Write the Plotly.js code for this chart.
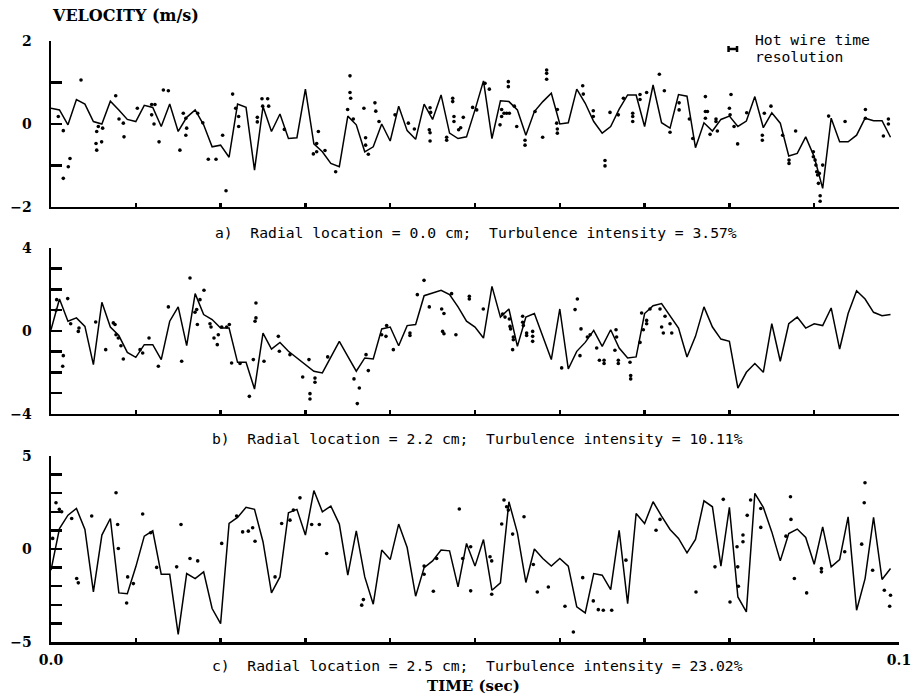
<!DOCTYPE html>
<html><head><meta charset="utf-8">
<script src="https://cdn.plot.ly/plotly-3.0.1.min.js"></script>
<style>html,body{margin:0;padding:0;background:#fff}</style>
</head><body>
<div id="chart" style="width:915px;height:698px"></div>
<script>
// sample times (sec) of the velocity traces
const TIME = [0,0.001,0.002,0.003,0.004,0.005,0.006,0.007,0.008,0.009,
0.010,0.011,0.012,0.013,0.014,0.015,0.016,0.017,0.018,0.019,
0.020,0.021,0.022,0.023,0.024,0.025,0.026,0.027,0.028,0.029,
0.030,0.031,0.032,0.033,0.034,0.035,0.036,0.037,0.038,0.039,
0.040,0.041,0.042,0.043,0.044,0.045,0.046,0.047,0.048,0.049,
0.050,0.051,0.052,0.053,0.054,0.055,0.056,0.057,0.058,0.059,
0.060,0.061,0.062,0.063,0.064,0.065,0.066,0.067,0.068,0.069,
0.070,0.071,0.072,0.073,0.074,0.075,0.076,0.077,0.078,0.079,
0.080,0.081,0.082,0.083,0.084,0.085,0.086,0.087,0.088,0.089,
0.090,0.091,0.092,0.093,0.094,0.095,0.096,0.097,0.098,0.099];

// a) hot wire velocity, radial location 0.0 cm
const LINE_A = [0.38,0.34,-0.02,0.59,0.48,0.06,0.0,0.55,0.34,0.11,
0.06,0.45,0.40,-0.06,0.48,-0.18,0.16,0.34,-0.02,-0.55,
-0.51,-0.80,0.48,0.40,-1.11,0.42,-0.18,0.24,-0.35,-0.33,
0.84,-0.48,-0.67,-0.95,-1.03,0.19,-0.02,-0.67,-0.55,0.0,
-0.41,0.43,-0.16,-0.37,0.48,0.11,0.70,-0.22,-0.35,-0.31,
0.34,1.04,-0.35,0.56,0.54,0.34,-0.27,0.30,0.54,0.74,
0.0,0.03,0.84,0.50,0.06,-0.22,-0.06,0.36,0.70,0.70,
-0.06,0.94,0.03,-0.10,0.71,0.67,-0.57,0.03,-0.17,0.11,
0.19,-0.06,0.07,0.66,-0.09,0.27,0.02,-0.77,-0.71,-0.31,
-0.79,-1.55,0.14,-0.43,-0.43,-0.27,0.14,0.08,0.08,-0.32];

// b) radial location 2.2 cm
const LINE_B = [0.06,1.54,0.47,0.63,0.22,-1.62,1.38,0.19,-0.22,-1.03,
-1.27,-0.66,-0.66,-1.38,0.47,1.16,-0.71,1.80,0.79,0.55,
0.14,0.14,-1.51,-1.51,-2.80,-0.10,-0.87,-0.55,-0.98,-1.30,
-1.62,-1.94,-2.02,-1.27,-0.50,-1.22,-1.94,-1.30,-1.35,0.10,
0.19,-0.71,0.26,0.31,1.70,1.83,1.96,1.75,1.16,0.47,
0.19,-0.34,2.15,0.67,1.06,-0.74,0.67,0.84,-0.26,-1.38,
1.06,-1.83,-0.98,-0.55,0.03,-0.74,0.06,-0.82,-1.30,-1.25,
0.84,1.22,1.32,0.71,0.14,-1.25,-0.26,1.16,0.19,-0.39,
-0.50,-2.75,-1.99,-1.57,-1.99,0.35,-1.46,0.35,0.67,0.14,
0.35,0.26,1.11,-0.87,0.84,1.94,1.54,0.90,0.74,0.79];

// c) radial location 2.5 cm
const LINE_C = [-1.14,1.10,1.82,2.18,1.05,-2.31,0.75,1.64,-2.36,-2.40,
-0.96,0.69,0.98,-1.36,-1.36,-4.59,-1.32,-1.59,-1.23,-3.20,
-4.01,1.37,1.70,2.24,2.13,0.39,-2.36,-1.50,1.95,2.13,
0.75,3.14,2.00,2.31,1.34,-1.41,0.98,-1.50,-2.97,-0.06,
-0.57,1.34,0.08,-2.54,-1.00,-0.64,-0.06,-0.10,-2.04,0.30,
-0.92,0.51,-2.22,-1.82,2.54,0.87,-1.80,0.0,-0.51,-0.92,
-0.51,-0.92,-3.11,-3.44,-1.32,-1.41,-2.18,1.00,-2.94,1.91,
1.37,2.54,1.77,1.05,0.57,-0.21,0.51,2.59,2.27,-0.92,
2.24,-2.58,-3.38,2.99,2.24,0.92,-0.64,0.83,1.07,0.62,
-0.82,1.19,-0.96,-0.57,1.73,-3.29,-1.59,1.70,-1.64,-1.05];

// comparison measurements (dots)
const DOTS_A_T = [0.00086,0.00145,0.00204,0.00224,0.00145,0.00354,0.00539,0.00558,0.00531,0.00539,0.00597,0.00609,
0.00763,0.00802,0.00853,0.00861,0.01018,0.01187,0.01226,0.01187,0.01215,0.01274,0.01325,0.01384,0.0156,0.0152,
0.0159,0.016,0.0159,0.0173,0.0179,0.01855,0.01946,0.02024,0.02064,0.02142,0.02178,0.02213,0.02213,0.02433,0.02433,
0.02488,0.02555,0.02496,0.02567,0.02752,0.03094,0.03133,0.03153,0.03133,0.03231,0.03357,0.03526,0.03526,0.03534,
0.03498,0.03565,0.0369,0.0371,0.0371,0.03742,0.0382,0.0383,0.03868,0.04057,0.04214,0.04285,0.0447,0.04477,0.04461,
0.0447,0.0447,0.04666,0.04666,0.04737,0.04737,0.04752,0.04752,0.04807,0.04831,0.04862,0.04972,0.0502,0.05118,0.05169,
0.05295,0.05314,0.05314,0.05342,0.05373,0.05405,0.05393,0.05393,0.05464,0.05492,0.0559,0.0559,0.05708,0.05798,0.05845,
0.05845,0.05845,0.05971,0.05963,0.05971,0.05971,0.0627,0.06277,0.06395,0.06395,0.06533,0.06533,0.06592,0.0669,0.0675,
0.0686,0.0686,0.0686,0.06946,0.06946,0.07024,0.07174,0.07233,0.073,0.07407,0.07407,0.07528,0.07568,0.07717,0.07717,
0.07741,0.07717,0.07772,0.07842,0.07842,0.07858,0.08019,0.08,0.08008,0.08055,0.08097,0.08204,0.08388,0.08388,0.08412,
0.0849,0.08628,0.08703,0.08703,0.08781,0.0899,0.0899,0.0901,0.0902,0.0903,0.0904,0.0906,0.091,0.0905,0.0907,0.0907,
0.0917,0.09364,0.09604,0.09604,0.09816,0.09875,0.09875];
const DOTS_A_V = [0.18,-0.16,-1.03,-0.83,-1.31,1.06,-0.18,-0.06,-0.47,-0.63,-0.43,-0.10,
0.68,0.12,0.02,-0.31,0.38,0.47,0.47,0.22,0.0,-0.43,0.82,0.80,0.26,-0.63,
0.14,-0.10,-0.27,0.26,0.03,-0.85,-0.85,-0.27,-1.61,0.72,0.38,0.18,-0.06,0.16,0.05,
0.61,0.61,0.43,0.43,-0.13,-0.72,-0.47,-0.18,-0.67,-0.64,-1.15,1.16,0.76,0.62,
0.35,0.12,0.38,-0.33,-0.51,-0.73,0.51,0.31,0.06,0.22,0.02,-0.12,0.39,0.28,-0.14,
-0.21,-0.41,-0.32,-0.39,0.62,0.54,0.18,0.06,-0.14,-0.09,0.16,0.40,0.34,0.98,0.84,
-0.02,0.18,0.35,0.26,0.26,0.26,1.02,0.90,0.43,-0.06,-0.39,-0.51,0.30,-0.32,1.30,
1.22,1.08,0.35,0.02,-0.12,-0.22,0.92,0.72,0.32,0.18,-0.88,-1.01,0.28,0.22,0.62,
0.26,0.18,0.06,0.71,0.59,0.76,1.20,0.80,-0.20,0.51,0.34,0.12,-0.35,0.66,0.30,
0.30,0.14,-0.25,0.12,0.06,-0.17,0.71,0.38,0.22,-0.06,-0.48,0.27,-0.27,-0.39,0.26,
0.43,-0.27,-0.87,-0.95,-0.17,-0.67,-0.79,-0.87,-0.99,-1.15,-1.23,-1.19,-0.99,-1.43,-1.73,-1.86,
0.19,0.06,0.35,0.14,-0.29,0.12,0.0];

const DOTS_B_T = [0.00067,0.00059,0.00145,0.00138,0.00197,0.00232,0.0033,0.00322,0.00527,0.00645,0.00735,0.00755,
0.00767,0.00794,0.00825,0.00853,0.0105,0.01081,0.01156,0.01266,0.01384,0.01541,0.01639,0.01698,0.01718,0.01804,
0.01757,0.01726,0.01875,0.01887,0.01922,0.01961,0.01973,0.02013,0.02072,0.02103,0.0213,0.02229,0.02339,0.02386,
0.02406,0.02417,0.02417,0.02512,0.02681,0.02693,0.02818,0.02968,0.03042,0.03054,0.03054,0.03113,0.03113,0.03263,
0.03573,0.03636,0.03612,0.03742,0.03715,0.03899,0.03958,0.0395,0.04037,0.04233,0.04233,0.0432,0.04399,0.04461,
0.04607,0.04634,0.04618,0.04634,0.04724,0.04775,0.04933,0.04933,0.05098,0.05326,0.05354,0.05405,0.05413,0.0542,
0.05444,0.05452,0.05452,0.05562,0.05562,0.0557,0.05609,0.05609,0.0568,0.0568,0.0568,0.06022,0.0618,0.06207,0.0625,
0.06238,0.06325,0.06357,0.06435,0.06467,0.06522,0.06522,0.06663,0.0667,0.0665,0.0669,0.0669,0.06828,0.06836,0.06836,
0.06946,0.06965,0.06985,0.07024,0.07024,0.07064,0.07182,0.07201,0.07221,0.07241,0.073,0.0732];
const DOTS_B_V = [1.51,1.00,-1.19,-1.70,1.56,0.35,0.14,-0.02,0.43,-0.90,0.39,0.31,
-0.18,-0.34,-0.71,-1.35,-0.90,-1.06,-0.34,-1.70,1.16,-1.46,2.55,0.90,1.03,1.96,
1.51,0.31,0.35,0.19,-0.34,-0.66,-0.18,0.19,0.19,0.31,-1.54,-1.57,-3.15,-1.38,
0.47,0.63,1.35,-1.46,-0.26,-0.98,-1.14,-2.22,-1.38,-3.02,-3.28,-2.27,-2.47,-1.25,
-2.31,-2.75,-3.50,-1.91,-1.14,-0.18,0.26,-0.26,-0.90,-0.10,-0.22,1.75,2.44,1.16,
1.06,0.84,-0.02,-0.13,1.80,-0.18,1.67,1.54,1.06,0.82,0.67,0.58,0.22,0.10,
-0.90,-0.29,-0.42,0.71,0.42,0.26,-0.10,-0.22,-0.02,-0.26,-0.50,-1.78,1.03,1.54,0.10,
-1.19,-0.29,-0.18,-0.82,-1.41,-1.41,-1.57,0.06,-0.29,-0.93,-1.41,-1.57,-1.51,-2.15,-2.31,
-0.55,0.87,0.06,0.51,0.35,1.06,1.06,0.19,-0.10,0.71,0.35,-0.10];

const DOTS_C_T = [0.0002,0.00059,0.00098,0.00126,0.00244,0.00303,0.00322,0.0048,0.00767,0.00786,0.00794,0.00904,
0.00971,0.00892,0.01081,0.01175,0.01246,0.01482,0.01533,0.01639,0.0173,0.02013,0.02189,0.0226,0.02327,0.02378,
0.02406,0.02642,0.0272,0.02818,0.02858,0.02936,0.03074,0.03164,0.03251,0.03664,0.03684,0.044,0.044,0.04509,0.04548,
0.04815,0.04855,0.04949,0.04949,0.05177,0.05197,0.05197,0.05315,0.05342,0.05373,0.05393,0.05444,0.05578,0.05688,
0.05735,0.05865,0.06061,0.0616,0.0627,0.06395,0.06454,0.06513,0.06612,0.0678,0.07135,0.07182,0.07606,0.0783,0.07928,
0.08007,0.0809,0.08098,0.08106,0.0816,0.0816,0.0821,0.0825,0.0837,0.0837,0.0872,0.08726,0.08667,0.08766,0.08911,
0.09085,0.09085,0.0936,0.0956,0.09599,0.0959,0.09689,0.09827,0.099,0.0989];
const DOTS_C_V = [0.57,2.49,2.13,2.00,1.64,-1.59,-1.82,1.77,3.02,1.32,0.03,-1.50,
-1.86,-2.90,1.88,0.87,-0.99,-0.96,1.32,-0.51,-0.64,0.30,1.77,0.92,0.96,1.14,
0.42,-1.50,1.37,1.55,2.09,2.75,1.32,1.32,-0.24,-3.02,-2.72,-0.92,-1.36,-2.27,-0.51,
2.15,-0.51,0.12,-2.25,-0.42,-0.64,-2.43,1.34,2.63,2.27,2.09,0.80,1.73,-0.83,
-2.31,-2.04,-3.08,-4.46,-1.54,-2.79,-3.26,-3.29,-3.29,-0.60,1.01,1.59,-2.31,-0.96,2.67,
-2.85,0.12,-0.96,-2.00,0.39,0.75,1.81,2.63,2.18,1.16,2.81,1.59,0.69,-1.59,-2.36,
-1.05,-1.23,-0.15,0.26,3.56,2.49,-1.14,-2.22,-2.49,-3.08];

const Y_RANGES = [[-2,2],[-4,4],[-5,5]];
const Y_LABEL_STEP = [2,4,5];
const PANEL_TEXT = [
  "a)\u00a0\u00a0Radial location = 0.0 cm;\u00a0\u00a0Turbulence intensity = 3.57%",
  "b)\u00a0\u00a0Radial location = 2.2 cm;\u00a0\u00a0Turbulence intensity = 10.11%",
  "c)\u00a0\u00a0Radial location = 2.5 cm;\u00a0\u00a0Turbulence intensity = 23.02%"];
const LEGEND_LINES = ["Hot wire time", "resolution"];
const HOT_WIRE_RES = 0.001;          // sec
const HOT_WIRE_MARK = [0.0804, 1.81]; // where the resolution bar is drawn (panel a)

const LINES = [LINE_A, LINE_B, LINE_C];
const DOTS = [[DOTS_A_T, DOTS_A_V],[DOTS_B_T, DOTS_B_V],[DOTS_C_T, DOTS_C_V]];
const DOMAINS = [[0.7238,1],[0.3794,0.6556],[0,0.3095]];
const SUF = ['', '2', '3'];

const traces = [];
for (let k = 0; k < 3; k++) {
  traces.push({x: TIME, y: LINES[k], xaxis: 'x'+SUF[k], yaxis: 'y'+SUF[k], mode: 'lines',
    line: {color: 'black', width: 1.5}, hoverinfo: 'skip'});
  traces.push({x: DOTS[k][0], y: DOTS[k][1], xaxis: 'x'+SUF[k], yaxis: 'y'+SUF[k], mode: 'markers',
    marker: {color: 'black', size: 3.6}, hoverinfo: 'skip'});
}
traces.push({x: [HOT_WIRE_MARK[0]], y: [HOT_WIRE_MARK[1]], xaxis: 'x', yaxis: 'y', mode: 'markers',
  marker: {size: 1, color: 'black'}, cliponaxis: false,
  error_x: {type: 'constant', value: HOT_WIRE_RES/2, thickness: 2.5, width: 3, color: 'black'}});

const boldSerif = {family: 'DejaVu Serif, serif', size: 14, color: 'black', weight: 'bold'};
const mono = {family: 'DejaVu Sans Mono, monospace', size: 14.7, color: 'black'};

const layout = {
  width: 915, height: 698, showlegend: false,
  margin: {l: 51, r: 16, t: 41, b: 56},
  paper_bgcolor: 'white', plot_bgcolor: 'white',
  annotations: []
};
for (let k = 0; k < 3; k++) {
  layout['xaxis'+SUF[k]] = {
    domain: [0,1], anchor: 'y'+SUF[k], range: [0, 0.1],
    showline: true, linecolor: 'black', linewidth: 2.5, mirror: false,
    showgrid: false, zeroline: false,
    ticks: 'inside', ticklen: 11, tickwidth: 2.5, tickcolor: 'black',
    tick0: 0, dtick: 0.1, tickformat: '.1f',
    showticklabels: k === 2, tickfont: boldSerif, ticklabelstandoff: 4,
    minor: {tick0: 0, dtick: 0.01, ticks: 'inside', ticklen: 4, tickwidth: 2.5, tickcolor: 'black', showgrid: false}
  };
  layout['yaxis'+SUF[k]] = {
    domain: DOMAINS[k], anchor: 'x'+SUF[k], range: Y_RANGES[k],
    showline: true, linecolor: 'black', linewidth: 2.5,
    showgrid: false, zeroline: false,
    ticks: 'inside', ticklen: 11, tickwidth: 2.5, tickcolor: 'black',
    tick0: 0, dtick: Y_LABEL_STEP[k],
    tickfont: boldSerif, ticklabelstandoff: 14,
    minor: {tick0: 0, dtick: 1, ticks: 'inside', ticklen: 11, tickwidth: 2.5, tickcolor: 'black', showgrid: false}
  };
}
const labelY = [0.682, 0.3394, -0.0383];
const labelX = [0.191, 0.1875, 0.1875];
for (let k = 0; k < 3; k++) {
  layout.annotations.push({xref: 'paper', yref: 'paper', x: labelX[k], y: labelY[k],
    xanchor: 'left', yanchor: 'middle', showarrow: false, text: PANEL_TEXT[k], font: mono});
}
layout.annotations.push({xref: 'paper', yref: 'paper', x: 0.4988, y: -0.0732, xanchor: 'center', yanchor: 'middle',
  showarrow: false, text: 'TIME (sec)', font: {family: 'DejaVu Serif, serif', size: 15, color: 'black', weight: 'bold'}});
layout.annotations.push({xref: 'paper', yref: 'paper', x: -0.0012, y: 1.0416, xanchor: 'left', yanchor: 'middle',
  showarrow: false, text: 'VELOCITY (m/s)', font: {family: 'DejaVu Serif, serif', size: 16, color: 'black', weight: 'bold'}});
const legendY = [1.0017, 0.9734];
for (let j = 0; j < 2; j++) {
  layout.annotations.push({xref: 'paper', yref: 'paper', x: 0.8274, y: legendY[j], xanchor: 'left', yanchor: 'middle',
    showarrow: false, text: LEGEND_LINES[j], font: mono});
}

Plotly.newPlot('chart', traces, layout, {staticPlot: true, displayModeBar: false});
</script>
</body></html>
